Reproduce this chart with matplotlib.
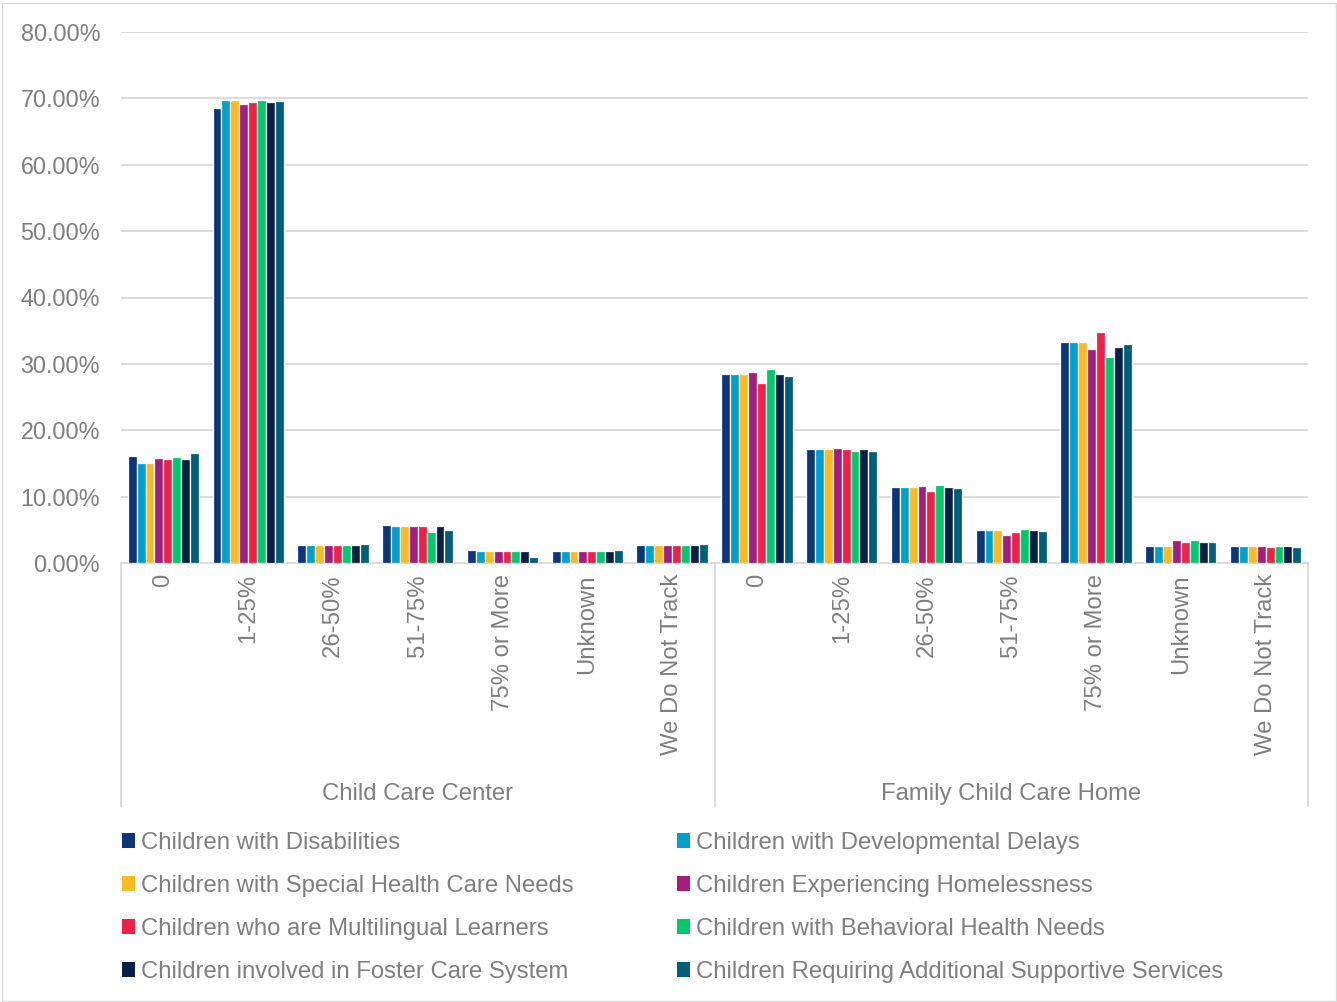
import numpy as np
import matplotlib
matplotlib.use("Agg")
import matplotlib.pyplot as plt
from matplotlib.patches import Patch, Rectangle
from matplotlib.lines import Line2D
from matplotlib.ticker import FuncFormatter, MultipleLocator

plt.rcParams['font.family'] = ['Liberation Sans', 'DejaVu Sans']

# --- data -----------------------------------------------------------------
settings = ["Child Care Center", "Family Child Care Home"]
buckets = ["0", "1-25%", "26-50%", "51-75%", "75% or More", "Unknown", "We Do Not Track"]

series_names = [
    "Children with Disabilities",
    "Children with Developmental Delays",
    "Children with Special Health Care Needs",
    "Children Experiencing Homelessness",
    "Children who are Multilingual Learners",
    "Children with Behavioral Health Needs",
    "Children involved in Foster Care System",
    "Children Requiring Additional Supportive Services",
]

# percent of programs, per bucket (Child Care Center buckets, then Family Child Care Home buckets)
disabilities    = [16.1, 68.6, 2.7, 5.7, 1.9, 1.8, 2.7, 28.4, 17.1, 11.4, 4.9, 33.3, 2.5, 2.5]
dev_delays      = [15.0, 69.8, 2.7, 5.6, 1.8, 1.8, 2.7, 28.4, 17.1, 11.4, 4.9, 33.3, 2.5, 2.5]
special_health  = [15.0, 69.8, 2.7, 5.6, 1.8, 1.8, 2.7, 28.4, 17.1, 11.4, 4.9, 33.3, 2.5, 2.5]
homelessness    = [15.8, 69.2, 2.7, 5.6, 1.8, 1.8, 2.7, 28.8, 17.4, 11.6, 4.2, 32.2, 3.4, 2.5]
multilingual    = [15.7, 69.4, 2.7, 5.5, 1.8, 1.8, 2.7, 27.1, 17.1, 10.8, 4.6, 34.8, 3.1, 2.35]
behavioral      = [16.0, 69.8, 2.7, 4.6, 1.8, 1.8, 2.7, 29.3, 16.8, 11.8, 5.1, 31.0, 3.4, 2.55]
foster_care     = [15.7, 69.4, 2.7, 5.5, 1.8, 1.8, 2.7, 28.4, 17.1, 11.4, 4.9, 32.5, 3.2, 2.5]
additional      = [16.6, 69.6, 2.9, 4.9, 0.9, 1.9, 2.9, 28.2, 16.9, 11.3, 4.8, 33.0, 3.2, 2.45]

series_values = [disabilities, dev_delays, special_health, homelessness,
                 multilingual, behavioral, foster_care, additional]

colors = ["#0D367A", "#00A0CC", "#FBB922", "#A21D7E",
          "#EF2149", "#00C96B", "#0A1F45", "#00607A"]

TEXT = "#7F7F7F"
GRID = "#D9D9D9"
FS = 16.8
FS_LEG = 17.2

# --- figure ---------------------------------------------------------------
W, H = 1337, 1002
fig = plt.figure(figsize=(W / 100, H / 100), dpi=100)
fig.patches.append(Rectangle((1.5 / W, 1.5 / H), (W - 3) / W, (H - 4.5) / H,
                             transform=fig.transFigure, fill=False,
                             edgecolor=GRID, linewidth=1.0))

left, right, top, bottom = 121, 1308, 32, 563
ax = fig.add_axes([left / W, 1 - bottom / H, (right - left) / W, (bottom - top) / H])

n_cat = len(settings) * len(buckets)
x = np.arange(n_cat)
n_ser = len(series_values)
group_w = 0.84
bw = group_w / n_ser
for i, (vals, col) in enumerate(zip(series_values, colors)):
    offs = -group_w / 2 + bw * (i + 0.5)
    ax.bar(x + offs, np.array(vals) / 100.0, width=bw, color=col,
           edgecolor="white", linewidth=0.9, zorder=3)

ax.set_xlim(-0.5, n_cat - 0.5)
ax.set_ylim(0, 0.8)
ax.yaxis.set_major_locator(MultipleLocator(0.1))
ax.yaxis.set_major_formatter(FuncFormatter(lambda v, p: f"{v * 100:.2f}%"))
ax.grid(axis="y", color=GRID, linewidth=1.3, zorder=0)
for s in ["left", "right", "top"]:
    ax.spines[s].set_visible(False)
ax.spines["bottom"].set_color(GRID)
ax.spines["bottom"].set_linewidth(1.3)
ax.tick_params(axis="y", length=0, pad=15, labelsize=FS, labelcolor=TEXT)
ax.tick_params(axis="x", length=0, pad=8, labelsize=FS_LEG, labelcolor=TEXT)
ax.set_xticks(x)
ax.set_xticklabels(buckets * len(settings), rotation=90, va="top", ha="center")

# group separators and group labels below the axis
sep_bottom = 806
for xp in [left, (left + right) / 2, right]:
    fig.add_artist(Line2D([xp / W, xp / W], [1 - bottom / H, 1 - sep_bottom / H],
                          transform=fig.transFigure, color=GRID, linewidth=1.3))
half = (right - left) / 2
for k, name in enumerate(settings):
    cx = left + half * (k + 0.5)
    fig.text(cx / W, 1 - 794 / H, name, ha="center", va="center",
             fontsize=FS_LEG, color=TEXT)

# legend: two columns, filled row by row
def add_legend(idx, x_px):
    handles = [Patch(facecolor=colors[i], edgecolor="none") for i in idx]
    labels = [series_names[i] for i in idx]
    fig.legend(handles, labels, loc="upper left",
               bbox_to_anchor=(x_px / W, 1 - 832 / H), frameon=False,
               fontsize=FS_LEG, labelcolor=TEXT, handlelength=0.55, handleheight=0.55,
               handletextpad=0.25, labelspacing=0.88, borderaxespad=0, borderpad=0)

add_legend([0, 2, 4, 6], 122)
add_legend([1, 3, 5, 7], 677)

fig.savefig("out.png", dpi=100, facecolor="white")
